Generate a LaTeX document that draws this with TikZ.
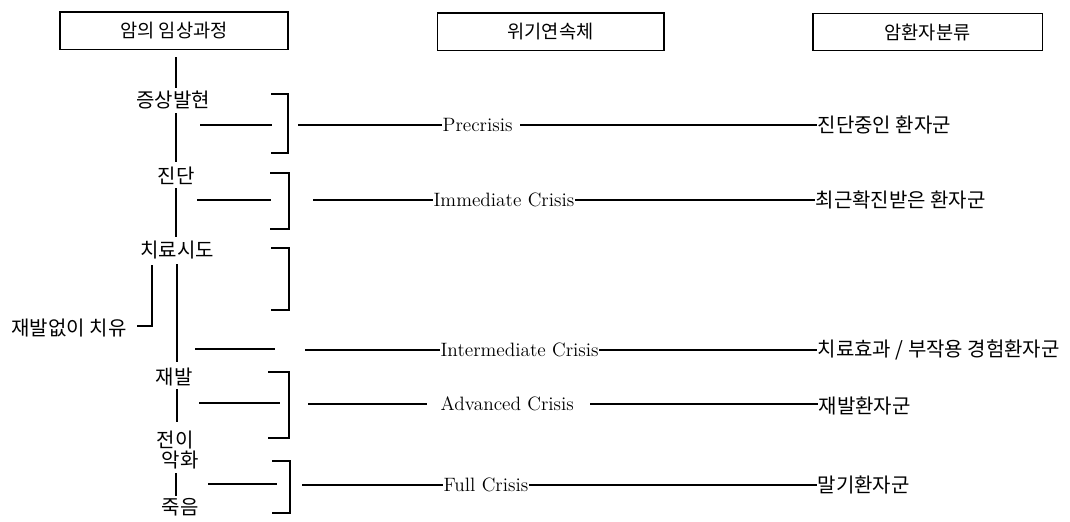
\documentclass[tikz,border=0pt]{standalone}
\usepackage{fontspec}
\newfontfamily\kr{Noto Sans CJK KR}
\begin{document}
\begin{tikzpicture}[x=0.75pt,y=-0.75pt,line width=1pt,
  hbox/.style={draw,inner sep=0pt,minimum height=28pt,font=\kr\fontsize{14}{16}\selectfont},
  kor/.style={inner sep=0pt,font=\kr\fontsize{15}{17}\selectfont},
  eng/.style={inner sep=0pt,font=\fontsize{14.5}{17}\selectfont}]
\useasboundingbox (0,0) rectangle (1070,521);
% headings
\node[hbox,minimum width=171pt] (h1) at (174,30.5) {암의 임상과정};
\node[hbox,minimum width=170pt] (h2) at (550.5,31.5) {위기연속체};
\node[hbox,minimum width=172pt] (h3) at (927.5,32) {암환자분류};
% left column stages
\node[kor] (s1) at (173,100) {증상발현};
\node[kor] (s2) at (176,176) {진단};
\node[kor] (s3) at (177,250) {치료시도};
\node[kor] (cure) at (69,328) {재발없이 치유};
\node[kor] (s4) at (174,377) {재발};
\node[kor] (s5) at (175,440) {전이};
\node[kor] (s6) at (180,460) {악화};
\node[kor] (s7) at (180,507) {죽음};
% main vertical line
\coordinate (m0) at (176,57); \coordinate (m1) at (176,88);
\coordinate (m2) at (176,113); \coordinate (m3) at (176,162);
\coordinate (m4) at (176,188); \coordinate (m5) at (176,237);
\coordinate (m6) at (177,264); \coordinate (m7) at (177,362);
\coordinate (m8) at (177,389); \coordinate (m9) at (177,422);
\coordinate (m10) at (176,473); \coordinate (m11) at (176,496);
\draw (m0)--(m1) (m2)--(m3) (m4)--(m5) (m6)--(m7) (m8)--(m9) (m10)--(m11);
% cure branch
\coordinate (c0) at (152,265); \coordinate (c1) at (152,326); \coordinate (c2) at (137,326);
\draw (c0)--(c1)--(c2);
% brackets
\coordinate (b1a) at (271,94); \coordinate (b1b) at (288,94); \coordinate (b1c) at (288,153); \coordinate (b1d) at (271,153);
\coordinate (b2a) at (270,173); \coordinate (b2b) at (289,173); \coordinate (b2c) at (289,229); \coordinate (b2d) at (270,229);
\coordinate (b3a) at (271,248); \coordinate (b3b) at (289,248); \coordinate (b3c) at (289,310); \coordinate (b3d) at (271,310);
\coordinate (b4a) at (268,372); \coordinate (b4b) at (289,372); \coordinate (b4c) at (289,438); \coordinate (b4d) at (268,438);
\coordinate (b5a) at (272,461); \coordinate (b5b) at (290,461); \coordinate (b5c) at (290,513); \coordinate (b5d) at (272,513);
\draw (b1a)--(b1b)--(b1c)--(b1d);
\draw (b2a)--(b2b)--(b2c)--(b2d);
\draw (b3a)--(b3b)--(b3c)--(b3d);
\draw (b4a)--(b4b)--(b4c)--(b4d);
\draw (b5a)--(b5b)--(b5c)--(b5d);
% crisis labels
\node[eng,anchor=west] (c1n) at (442,125) {Precrisis};
\node[eng,anchor=west] (c2n) at (433,200) {Immediate Crisis};
\node[eng,anchor=west] (c3n) at (440,350) {Intermediate Crisis};
\node[eng,anchor=west] (c4n) at (440,404) {Advanced Crisis};
\node[eng,anchor=west] (c5n) at (443,485) {Full Crisis};
% patient groups
\node[kor,anchor=west] (p1) at (817,125) {진단중인 환자군};
\node[kor,anchor=west] (p2) at (815,200) {최근확진받은 환자군};
\node[kor,anchor=west] (p3) at (817,350) {치료효과 / 부작용 경험환자군};
\node[kor,anchor=west] (p4) at (818,406) {재발환자군};
\node[kor,anchor=west] (p5) at (817,485) {말기환자군};
% row lines
\coordinate (l1a) at (200,125); \coordinate (l1b) at (272,125); \coordinate (r1a) at (298,125); \coordinate (r1b) at (520,125);
\draw (l1a)--(l1b); \draw (r1a)--(c1n.west); \draw (r1b)--(p1.west);
\coordinate (l2a) at (197,200); \coordinate (l2b) at (271,200); \coordinate (r2a) at (313,200);
\draw (l2a)--(l2b); \draw (r2a)--(c2n.west); \draw (c2n.east)--(p2.west);
\coordinate (l3a) at (195,349); \coordinate (l3b) at (275,349); \coordinate (r3a) at (305,350);
\draw (l3a)--(l3b); \draw (r3a)--(c3n.west); \draw (c3n.east)--(p3.west);
\coordinate (l4a) at (199,403); \coordinate (l4b) at (280,403); \coordinate (r4a) at (308,404); \coordinate (r4b) at (427,404); \coordinate (r4c) at (590,404);
\draw (l4a)--(l4b); \draw (r4a)--(r4b); \draw (r4c)--(p4.west |- r4c);
\coordinate (l5a) at (208,484); \coordinate (l5b) at (277,484); \coordinate (r5a) at (302,485);
\draw (l5a)--(l5b); \draw (r5a)--(c5n.west); \draw (c5n.east)--(p5.west);
\end{tikzpicture}
\end{document}
